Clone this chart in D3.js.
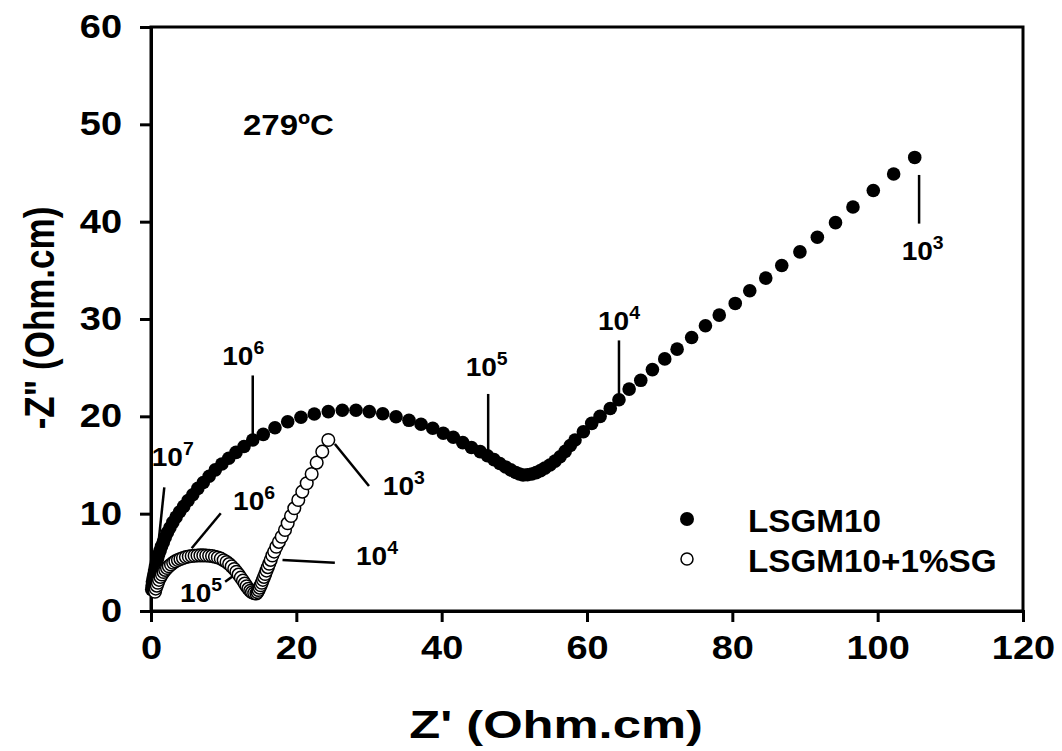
<!DOCTYPE html>
<html><head><meta charset="utf-8">
<script src="https://cdn.jsdelivr.net/npm/d3@7"></script>
<style>
body{margin:0;background:#fff;}
text{font-family:Arial,"Liberation Sans",sans-serif;font-weight:bold;fill:#000;}
</style></head>
<body><svg id="c" width="1062" height="751"></svg>
<script>
// LSGM10 (filled)
const lsgmX = [0.1,0.15,0.2,0.3,0.4,0.5,0.62,0.75,0.9,1.05,1.25,1.45,1.7,1.95,2.25,2.6,3.0,3.45,3.95,4.5,5.1,5.75,6.45,7.2,8.0,8.85,9.75,10.7,11.7,12.8,14.0,15.45,17.06,18.81,20.64,22.47,24.4,26.33,28.21,30.04,31.89,33.72,35.5,37.16,38.77,40.22,41.6,42.9,44.1,45.3,46.3,47.2,48.0,48.8,49.5,50.2,50.7,51.2,51.8,52.4,53.0,53.6,54.2,54.9,55.6,56.3,57.0,57.7,58.35,59.5,60.65,61.8,63.2,64.4,65.8,67.4,69.0,70.7,72.4,74.4,76.3,78.2,80.4,82.4,84.6,86.8,89.3,91.7,94.2,96.6,99.4,102.2,105.1];
const lsgmY = [2.2,2.6,3.0,3.4,3.8,4.2,4.6,5.0,5.4,5.8,6.2,6.65,7.1,7.55,8.05,8.55,9.1,9.65,10.2,10.75,11.35,11.95,12.6,13.2,13.85,14.5,15.1,15.7,16.3,16.9,17.57,18.15,18.83,19.45,19.9,20.24,20.48,20.62,20.62,20.48,20.27,19.96,19.59,19.18,18.77,18.26,17.85,17.3,16.8,16.37,15.95,15.55,15.15,14.8,14.5,14.23,14.07,13.97,14.0,14.08,14.22,14.42,14.68,15.0,15.4,15.85,16.4,17.0,17.57,18.42,19.28,20.0,20.8,21.7,22.8,23.7,24.8,25.9,26.9,28.1,29.3,30.4,31.6,32.9,34.2,35.5,36.9,38.4,39.9,41.5,43.2,44.9,46.6];
// LSGM10+1%SG (open)
const sgX = [0.55,0.65,0.8,0.95,1.1,1.3,1.5,1.72,1.95,2.2,2.45,2.75,3.05,3.35,3.7,4.05,4.4,4.8,5.2,5.6,6.0,6.4,6.8,7.2,7.6,8.0,8.4,8.8,9.2,9.6,10.0,10.4,10.75,11.1,11.45,11.75,12.05,12.35,12.65,12.9,13.15,13.4,13.65,13.9,14.2,14.5,14.65,14.8,14.95,15.1,15.25,15.4,15.55,15.72,15.9,16.08,16.27,16.47,16.7,16.95,17.25,17.6,17.99,18.44,18.81,19.27,19.72,20.27,20.82,21.43,22.11,22.8,23.57,24.4];
const sgY = [1.98,2.3,2.6,2.9,3.2,3.5,3.75,4.0,4.22,4.42,4.6,4.78,4.95,5.1,5.23,5.35,5.45,5.54,5.6,5.65,5.68,5.7,5.71,5.71,5.7,5.68,5.64,5.58,5.5,5.38,5.22,5.03,4.82,4.58,4.32,4.04,3.74,3.43,3.12,2.82,2.54,2.28,2.07,1.92,1.83,1.8,1.95,2.15,2.4,2.65,2.9,3.2,3.5,3.8,4.15,4.5,4.85,5.25,5.7,6.1,6.6,7.1,7.63,8.32,9.01,9.76,10.55,11.4,12.26,13.12,14.08,15.24,16.37,17.57];

const seriesNames = ["LSGM10","LSGM10+1%SG"];
const xTicks = [0,20,40,60,80,100,120];
const yTicks = [0,10,20,30,40,50,60];
const tempLabel = "279ºC";
// frequency annotations: exponent, pointer line (data coords), label anchor (data coords)
const annExp  = ["7","6","5","4","3","3","4","6","5"];
const annLine = [[1.83,12.7,0.78,5.24],[14.0,24.2,14.0,18.0],[46.4,22.3,46.4,16.4],[64.4,27.8,64.4,22.2],[105.7,44.8,105.7,39.8],
                 [25.3,17.16,30.0,12.84],[18.1,5.24,25.3,4.96],[5.6,6.44,9.6,10.04],[10.2,3.0,11.3,3.6]];
const annPos  = [[0.1,14.9],[9.8,25.3],[43.3,24.1],[61.5,28.9],[103.3,36.1],[31.9,11.9],[28.2,4.7],[11.3,10.4],[4.0,0.9]];

const svg = d3.select("#c");
const m = {l:151, r:1023, t:27, b:611};
const x = d3.scaleLinear().domain([0,120]).range([m.l,m.r]);
const y = d3.scaleLinear().domain([0,60]).range([m.b,m.t]);

// frame
svg.append("rect").attr("x",m.l).attr("y",m.t).attr("width",m.r-m.l).attr("height",m.b-m.t)
  .attr("fill","none").attr("stroke","#000").attr("stroke-width",3);

const xa = svg.append("g").attr("transform",`translate(0,${m.b})`)
  .call(d3.axisBottom(x).tickValues(xTicks).tickSize(11).tickPadding(12).tickFormat(d3.format("d")));
const ya = svg.append("g").attr("transform",`translate(${m.l},0)`)
  .call(d3.axisLeft(y).tickValues(yTicks).tickSize(11).tickPadding(14).tickFormat(d3.format("d")));
[xa,ya].forEach(a=>{
  a.select(".domain").attr("stroke-width",3);
  a.selectAll(".tick line").attr("stroke-width",3);
  a.selectAll(".tick text").style("font-size","33px").style("font-family","Arial,'Liberation Sans',sans-serif").style("font-weight","bold");
});
xa.selectAll(".tick text").attr("dy","0.76em").attr("transform","scale(1.15,1)");
ya.selectAll(".tick text").attr("x",-29/1.15).attr("transform","scale(1.15,1)");

function stext(px,py,s,size,str,anchor){
  return svg.append("text").attr("transform",`translate(${px},${py}) scale(${s},1)`)
    .attr("text-anchor",anchor||"start").style("font-size",size+"px").text(str);
}
stext(556,738,1.3,39,"Z' (Ohm.cm)","middle");
svg.append("text").attr("transform","translate(54,318) scale(1.2,1) rotate(-90)").attr("text-anchor","middle")
  .style("font-size","35px").text("-Z\" (Ohm.cm)");
stext(243,135,1.1,30,tempLabel);

// annotations
const ann = svg.append("g");
annLine.forEach(l=>{
  ann.append("line").attr("x1",x(l[0])).attr("y1",y(l[1])).attr("x2",x(l[2])).attr("y2",y(l[3]))
    .attr("stroke","#000").attr("stroke-width",2.5);
});
annPos.forEach((p,i)=>{
  const t = ann.append("text").attr("transform",`translate(${x(p[0])},${y(p[1])}) scale(1.08,1)`).style("font-size","26px");
  t.append("tspan").text("10");
  t.append("tspan").attr("dy","-11").style("font-size","18px").text(annExp[i]);
});

// data
const lsgm = lsgmX.map((v,i)=>[v,lsgmY[i]]);
const sg = sgX.map((v,i)=>[v,sgY[i]]);
svg.append("g").selectAll("circle").data(lsgm).join("circle")
  .attr("cx",d=>x(d[0])).attr("cy",d=>y(d[1])).attr("r",6.8).attr("fill","#000");
svg.append("g").selectAll("circle").data(sg).join("circle")
  .attr("cx",d=>x(d[0])).attr("cy",d=>y(d[1])).attr("r",6.3).attr("fill","#fff").attr("stroke","#000").attr("stroke-width",1.5);

// legend
const lg = svg.append("g");
lg.append("circle").attr("cx",687).attr("cy",519).attr("r",7).attr("fill","#000");
lg.append("circle").attr("cx",687).attr("cy",559).attr("r",6).attr("fill","#fff").attr("stroke","#000").attr("stroke-width",1.5);
stext(748,532,1.04,32,seriesNames[0]);
stext(748,572,1.04,32,seriesNames[1]);
</script></body></html>
